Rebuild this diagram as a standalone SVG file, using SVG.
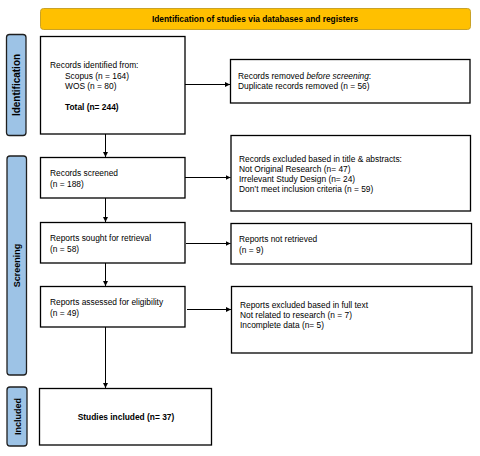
<svg xmlns="http://www.w3.org/2000/svg" width="480" height="456" viewBox="0 0 480 456">
<defs>
<marker id="arr" viewBox="0 0 10 10" refX="10" refY="5" markerWidth="5" markerHeight="5" orient="auto" markerUnits="userSpaceOnUse">
<path d="M0,0 L10,5 L0,10 z" fill="#000"/>
</marker>
<style>
.box{fill:#fff;stroke:#000;stroke-width:1.3}
.side{fill:#9DC3E6;stroke:#1f1f1f;stroke-width:1.3}
.t{font-family:"Liberation Sans",Arial,sans-serif;font-size:8.4px;fill:#000}
.b{font-weight:bold}
.side-t{font-family:"Liberation Sans",Arial,sans-serif;font-size:9px;font-weight:bold;fill:#000}
.c{stroke:#000;stroke-width:1;fill:none}
</style>
</defs>
<rect width="480" height="456" fill="#fff"/>
<g id="header">
<rect x="40.5" y="8.5" width="430" height="21" rx="3" fill="#FFC000" stroke="#C9A227" stroke-width="1"/>
<text class="t b" x="255" y="22" text-anchor="middle">Identification of studies via databases and registers</text>
</g>
<g id="label-identification">
<rect class="side" x="6.5" y="34.5" width="19.5" height="101" rx="3"/>
<text class="side-t" transform="translate(20,85) rotate(-90)" text-anchor="middle" style="font-size:10px">Identification</text>
</g>
<g id="label-screening">
<rect class="side" x="7" y="156" width="19.5" height="219" rx="3"/>
<text class="side-t" transform="translate(20.3,265.5) rotate(-90)" text-anchor="middle">Screening</text>
</g>
<g id="label-included">
<rect class="side" x="7" y="387" width="20" height="59" rx="3"/>
<text class="side-t" transform="translate(20.5,416.5) rotate(-90)" text-anchor="middle">Included</text>
</g>
<g id="identified">
<rect class="box" x="40.5" y="36.5" width="144.5" height="97.5"/>
<text class="t" x="50" y="68">Records identified from:</text>
<text class="t" x="65" y="79">Scopus (n = 164)</text>
<text class="t" x="65" y="89">WOS (n = 80)</text>
<text class="t b" x="65" y="109.5">Total (n= 244)</text>
</g>
<g id="removed">
<rect class="box" x="230.5" y="59.5" width="239.5" height="43.5"/>
<text class="t" x="238" y="79">Records removed <tspan font-style="italic">before screening</tspan>:</text>
<text class="t" x="238" y="89">Duplicate records removed (n = 56)</text>
</g>
<g id="screened">
<rect class="box" x="40.5" y="157.5" width="144.5" height="40.5"/>
<text class="t" x="50" y="176">Records screened</text>
<text class="t" x="50" y="186.5">(n = 188)</text>
</g>
<g id="excluded-title">
<rect class="box" x="231" y="135.5" width="239.5" height="75.5"/>
<text class="t" x="239" y="161.5">Records excluded based in title &amp; abstracts:</text>
<text class="t" x="239" y="171.5">Not Original Research (n= 47)</text>
<text class="t" x="239" y="181.5">Irrelevant Study Design (n= 24)</text>
<text class="t" x="239" y="191.5">Don’t meet inclusion criteria (n = 59)</text>
</g>
<g id="sought">
<rect class="box" x="40.5" y="222.5" width="144.5" height="40.5"/>
<text class="t" x="50" y="240.5">Reports sought for retrieval</text>
<text class="t" x="50" y="251.5">(n = 58)</text>
</g>
<g id="not-retrieved">
<rect class="box" x="231" y="223.5" width="240.5" height="40.5"/>
<text class="t" x="239" y="241.5">Reports not retrieved</text>
<text class="t" x="239" y="252.5">(n = 9)</text>
</g>
<g id="assessed">
<rect class="box" x="40.5" y="286.5" width="144.5" height="40.5"/>
<text class="t" x="50" y="304.5">Reports assessed for eligibility</text>
<text class="t" x="50" y="315.5">(n = 49)</text>
</g>
<g id="excluded-full">
<rect class="box" x="231.5" y="286.5" width="240.5" height="66.5"/>
<text class="t" x="240" y="307.5">Reports excluded based in full text</text>
<text class="t" x="240" y="317.5">Not related to research (n = 7)</text>
<text class="t" x="240" y="327.5">Incomplete data (n= 5)</text>
</g>
<g id="included">
<rect class="box" x="39.5" y="388.5" width="172" height="56.5"/>
<text class="t b" x="126" y="420" text-anchor="middle">Studies included (n= 37)</text>
</g>
<g id="connectors">
<path class="c" d="M185,84.5 H230" marker-end="url(#arr)"/>
<path class="c" d="M185,177.5 H230.5" marker-end="url(#arr)"/>
<path class="c" d="M186,243.5 H230.5" marker-end="url(#arr)"/>
<path class="c" d="M187,309.5 H231" marker-end="url(#arr)"/>
<path class="c" d="M105.5,134 V157" marker-end="url(#arr)"/>
<path class="c" d="M105.5,198 V222" marker-end="url(#arr)"/>
<path class="c" d="M105.5,263 V286" marker-end="url(#arr)"/>
<path class="c" d="M105.5,327 V388" marker-end="url(#arr)"/>
</g>
</svg>
